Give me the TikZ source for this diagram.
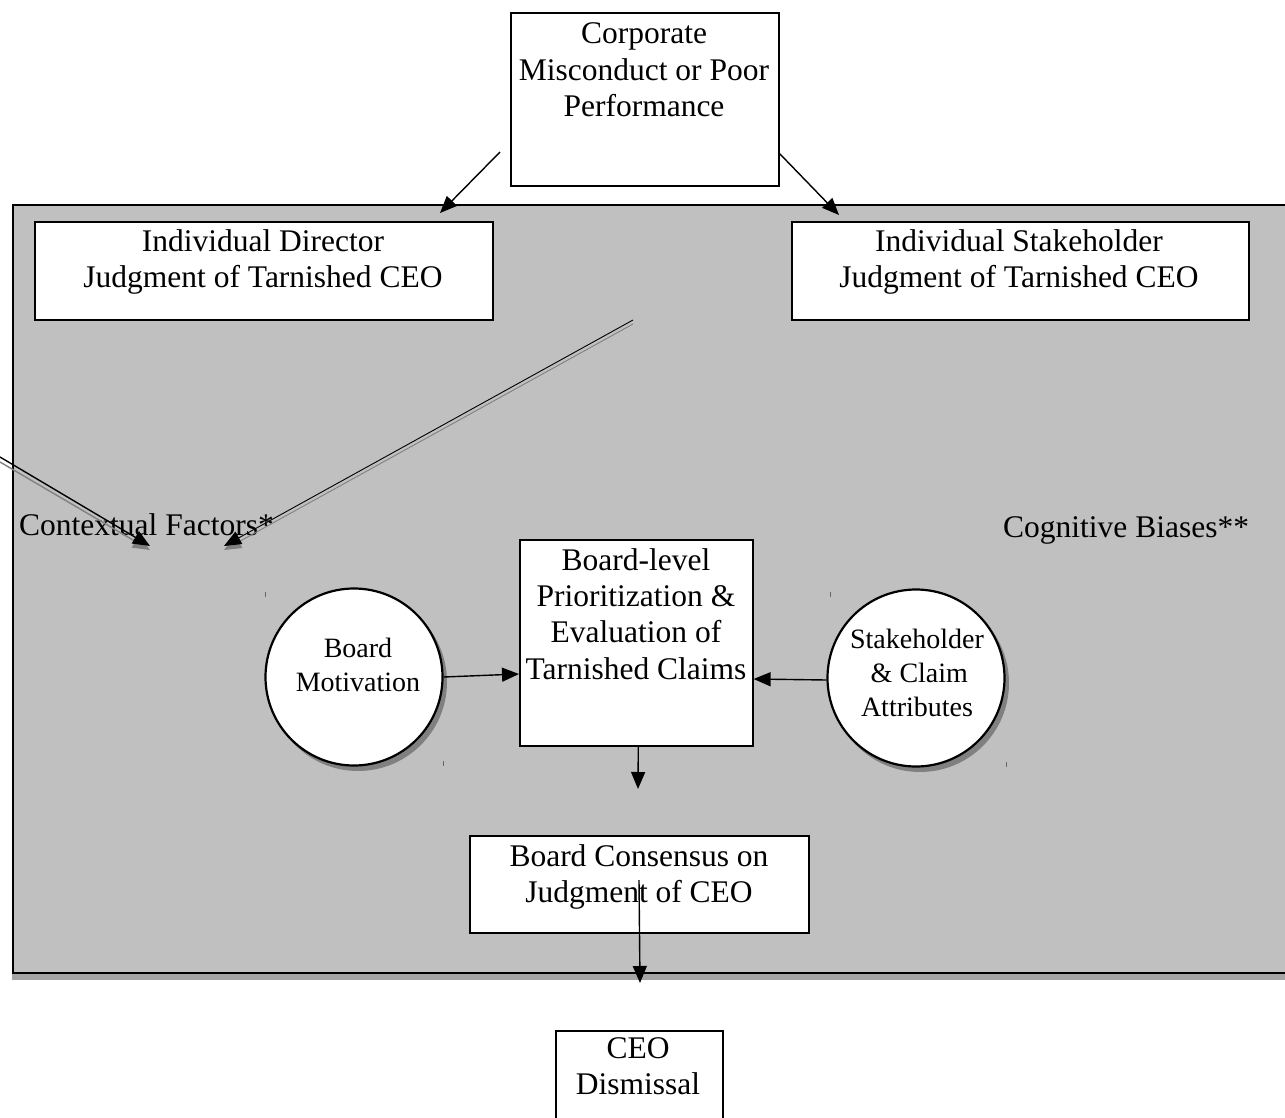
\documentclass[tikz,border=0pt]{standalone}
\usepackage{fontspec}
\setmainfont{Liberation Serif}
\usetikzlibrary{arrows.meta,calc}
\definecolor{regiongray}{RGB}{192,192,192}
\definecolor{shadowgray}{RGB}{128,128,128}
\definecolor{edgeshadow}{RGB}{165,165,165}
\begin{document}
\begin{tikzpicture}[x=1pt,y=-1pt,
  box/.style={draw=black,line width=1.6pt,fill=white,inner sep=0pt,anchor=north west},
  txt/.style={font=\fontsize{31.5}{36.3}\selectfont,align=center,inner sep=0pt},
  ctxt/.style={font=\fontsize{28}{34}\selectfont,align=center,inner sep=0pt},
  circ/.style={draw=black,line width=2.2pt,fill=white,circle,inner sep=0pt,minimum size=177pt},
  circshadow/.style={fill=shadowgray,circle,inner sep=0pt,minimum size=178pt},
  arr/.style={line width=1.4pt,-{Triangle[length=17pt,width=14pt]}},
  sarr/.style={line width=1.4pt,draw=shadowgray,-{Triangle[length=17pt,width=14pt,fill=shadowgray]}},
  tick/.style={line width=0.6pt,draw=black!60},
]
\useasboundingbox (0,0) rectangle (1285,1118);
\fill[white] (0,0) rectangle (1285,1118);

% large grey region with bottom shadow
\fill[edgeshadow] (12,972) rectangle (1285,980);
\node[box,fill=regiongray,minimum width=1273pt,minimum height=768pt] (region) at (12,204) {};

% boxes
\node[box,minimum width=268pt,minimum height=173pt] (top) at (510,12) {};
\node[txt] (toptxt) at (644,70) {Corporate\\Misconduct or Poor\\Performance};

\node[box,minimum width=458pt,minimum height=98pt] (dir) at (34,221) {};
\node[txt] (dirtxt) at (263,262) {Individual Director\\Judgment of Tarnished CEO};

\node[box,minimum width=457pt,minimum height=98pt] (stk) at (791,221) {};
\node[txt] (stktxt) at (1019,262) {Individual Stakeholder\\Judgment of Tarnished CEO};

\node[box,minimum width=233pt,minimum height=206pt] (eval) at (519,539) {};
\node[txt] (evaltxt) at (636,614) {Board-level\\Prioritization \&\\Evaluation of\\Tarnished Claims};

\node[box,minimum width=339pt,minimum height=97pt] (cons) at (469,835) {};
\node[txt] (constxt) at (639,877) {Board Consensus on\\Judgment of CEO};

\node[box,minimum width=167pt,minimum height=100pt] (ceo) at (555,1030) {};
\node[txt] (ceotxt) at (638,1066) {CEO\\Dismissal};

% circles
\node[circshadow] (motsh) at (358,682) {};
\node[circ] (mot) at (354,677) {};
\node[ctxt] (mottxt) at (358,665) {Board\\Motivation};

\node[circshadow] (scasH) at (920,683) {};
\node[circ] (sca) at (916,678) {};
\node[ctxt] (scatxt) at (917,673) {Stakeholder\\\,\& Claim\\Attributes};

% free labels
\node[txt,anchor=west] (ctx) at (19,525) {Contextual Factors*};
\node[txt,anchor=west] (cog) at (1003,530) {Cognitive Biases**};

% coordinates for free ends
\coordinate (tl0) at (500,152);
\coordinate (tl1) at (440,213);
\coordinate (tr0) at (779,153);
\coordinate (tr1) at (839,215);
\coordinate (lf0) at (0,457);
\coordinate (lf1) at (150,546);
\coordinate (db0) at (633,320);
\coordinate (db1) at (224,546);
\coordinate (ev1) at (638,789);
\coordinate (cs0) at (639,880);
\coordinate (cs1) at (640,983);

% arrows from top box
\draw[arr] (tl0) -- (tl1);
\draw[arr] (tr0) -- (tr1);

% shadowed arrows into Contextual Factors
\draw[sarr] ($(lf0)+(0,5)$) -- ($(lf1)+(0,4)$);
\draw[arr] (lf0) -- (lf1);
\draw[sarr,line width=0.9pt] ($(db0)+(0,4)$) -- ($(db1)+(0,4)$);
\draw[arr,line width=0.9pt] (db0) -- (db1);

% circle to box arrows
\draw[arr] (mot.east) -- ($(eval.north west)+(0,135)$);
\draw[arr] ($(sca.west)+(0,2)$) -- ($(eval.north east)+(0,140)$);

% downward arrows
\draw[arr] ($(eval.south)+(2,0)$) -- (ev1);
\draw[arr] (cs0) -- (cs1);

% tiny ticks
\draw[tick] (265,592) -- (265,597);
\draw[tick] (830,592) -- (830,597);
\draw[tick] (443,761) -- (443,766);
\draw[tick] (1006,762) -- (1006,767);
\end{tikzpicture}
\end{document}
